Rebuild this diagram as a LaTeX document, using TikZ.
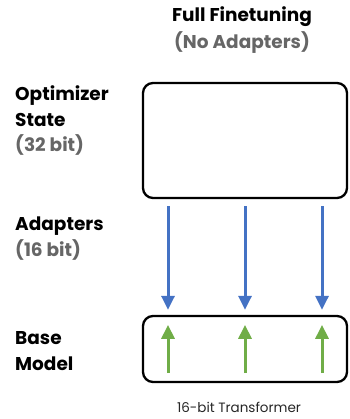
\documentclass[tikz,border=0pt]{standalone}
\usepackage{fontspec}
\setmainfont{Poppins}
\usetikzlibrary{arrows.meta}
\definecolor{arrblue}{HTML}{4472C4}
\definecolor{arrgreen}{HTML}{70AD47}
\definecolor{subgray}{HTML}{666666}
\begin{document}
\begin{tikzpicture}[x=1pt,y=-1pt,
  lbl/.style={anchor=base west,inner sep=0pt,font=\fontsize{18.5}{22}\selectfont\bfseries},
  sublbl/.style={lbl,text=subgray},
  ttl/.style={anchor=base,inner sep=0pt,font=\fontsize{18.5}{22}\selectfont\bfseries},
  box/.style={draw=black,line width=2.3pt,rounded corners=10pt,minimum width=204pt,inner sep=0pt},
  downarr/.style={draw=arrblue,line width=3pt,-{Triangle[width=13pt,length=14pt]}},
  uparr/.style={draw=arrgreen,line width=3pt,-{Triangle[width=13pt,length=14pt]}}]
\useasboundingbox (0,0) rectangle (349,419);
\node[ttl] (t1) at (242,21.5) {Full Finetuning};
\node[ttl,text=subgray] (t2) at (242,49) {(No Adapters)};
\node[lbl] (l1) at (15,101) {Optimizer};
\node[lbl] (l2) at (15,127) {State};
\node[sublbl] (l3) at (15,152) {(32 bit)};
\node[lbl] (l4) at (15,230) {Adapters};
\node[sublbl] (l5) at (15,256) {(16 bit)};
\node[lbl] (l6) at (15,344) {Base};
\node[lbl] (l7) at (15,370) {Model};
\node[box,minimum height=115pt] (opt) at (245,140.5) {};
\node[box,minimum height=66pt] (base) at (245,349) {};
\node[anchor=base,inner sep=0pt,font=\fontsize{13.5}{16}\selectfont,text=black!85] (cap) at (239,412) {16-bit Transformer};
\foreach \dx in {-77,0,77}{
  \draw[downarr] ([xshift=\dx pt,yshift=-7pt]opt.south) -- ([xshift=\dx pt,yshift=5pt]base.north);
  \draw[uparr] ([xshift=\dx pt,yshift=10pt]base.south) -- ([xshift=\dx pt,yshift=-10pt]base.north);
}
\end{tikzpicture}
\end{document}
